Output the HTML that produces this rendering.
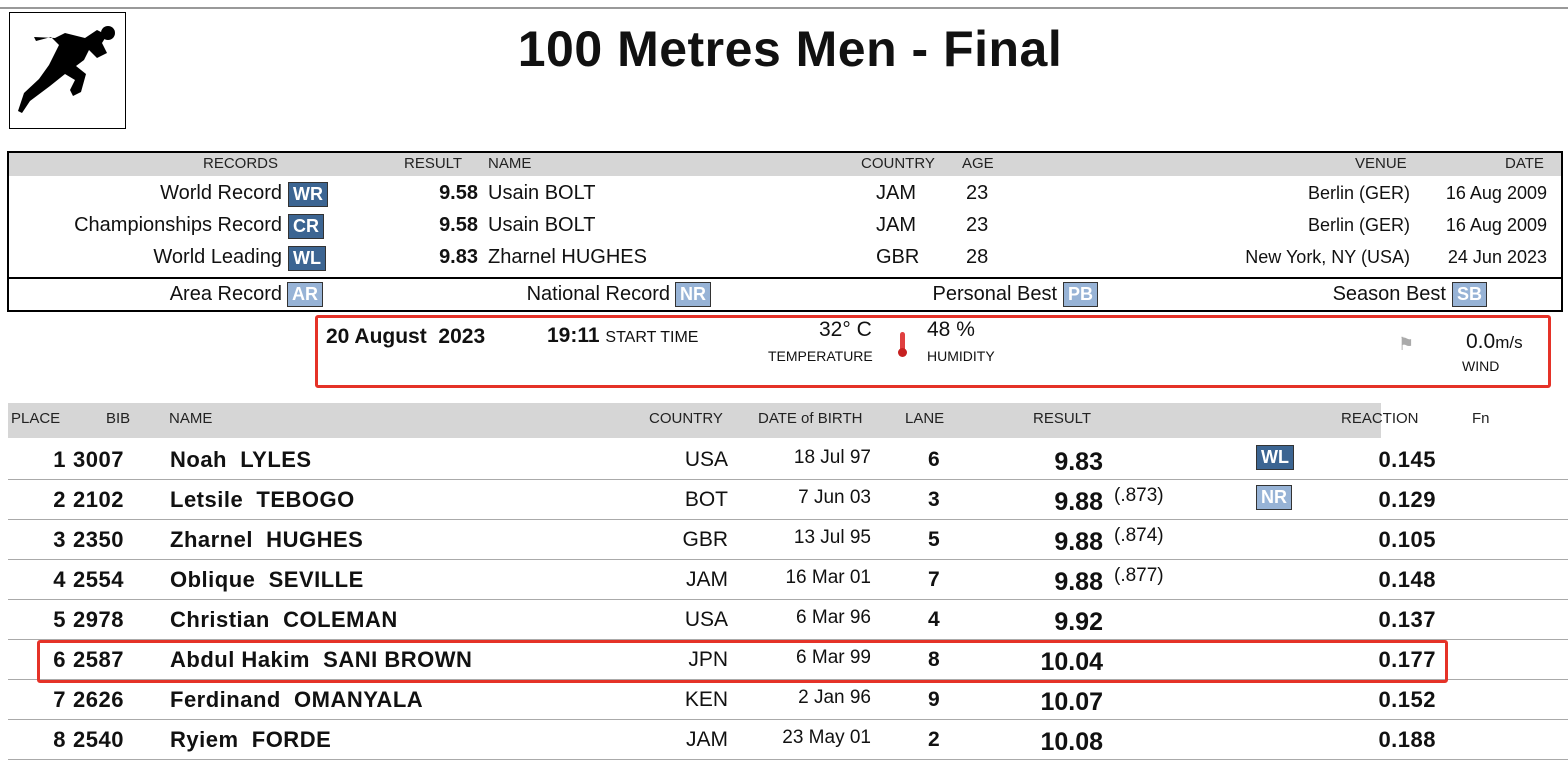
<!DOCTYPE html>
<html><head><style>
body{margin:0;width:1568px;height:768px;background:#fff;position:relative;overflow:hidden;font-family:"Liberation Sans",sans-serif;color:#111}
.a{position:absolute;white-space:nowrap}
.b{font-weight:bold}
.h{font-size:15px;color:#222}
.r{text-align:right}
.tag{position:absolute;color:#fff;font-size:18px;font-weight:bold;padding:0 4px;height:23px;line-height:23px;border:1px solid #333}
.dk{background:#3c6592}.lt{background:#97b3d6}
.sep{position:absolute;left:8px;width:1560px;height:1px;background:#aaa}
.rw{font-size:22px;font-weight:bold;letter-spacing:0.5px}
.rs{font-size:25px;font-weight:bold}
.sm{font-size:20px}
</style></head><body>
<div class="a" style="left:0;top:7px;width:1568px;height:2px;background:#999"></div>
<div class="a" style="left:9px;top:12px;width:115px;height:115px;border:1px solid #000">
<svg width="115" height="115" viewBox="0 0 115 115"><path d="M45 25 l10 -5 20 5 12 -8 10 5 -5 8 5 10 -10 5 -8 -8 -5 10 -8 6 10 8 -5 18 -8 4 -3 -6 5 -10 -10 -6 -15 12 -20 15 -8 12 -4 -2 6 -18 15 -14 10 -14 10 -20 -8 -8 -15 4 -2 -4z" fill="#000"/><circle cx="98" cy="20" r="7"/></svg></div>
<div class="a b" style="left:0;width:1580px;text-align:center;top:20px;font-size:50px;letter-spacing:0.5px">100 Metres Men - Final</div>

<div class="a" style="left:7px;top:151px;width:1552px;height:157px;border:2px solid #000"></div>
<div class="a" style="left:9px;top:153px;width:1552px;height:23px;background:#d6d6d6"></div>
<div class="a" style="left:9px;top:277px;width:1552px;height:2px;background:#000"></div>
<div class="a h" style="left:203px;top:155px">RECORDS</div>
<div class="a h" style="left:404px;top:155px">RESULT</div>
<div class="a h" style="left:488px;top:155px">NAME</div>
<div class="a h" style="left:861px;top:155px">COUNTRY</div>
<div class="a h" style="left:962px;top:155px">AGE</div>
<div class="a h" style="left:1355px;top:155px">VENUE</div>
<div class="a h" style="left:1505px;top:155px">DATE</div>

<div class="a sm r" style="right:1286px;top:182px">World Record</div><div class="tag dk" style="left:288px;top:182px">WR</div>
<div class="a sm r" style="right:1286px;top:214px">Championships Record</div><div class="tag dk" style="left:288px;top:214px">CR</div>
<div class="a sm r" style="right:1286px;top:246px">World Leading</div><div class="tag dk" style="left:288px;top:246px">WL</div>
<div class="a sm b r" style="right:1090px;top:182px">9.58</div><div class="a sm" style="left:488px;top:182px">Usain BOLT</div>
<div class="a sm b r" style="right:1090px;top:214px">9.58</div><div class="a sm" style="left:488px;top:214px">Usain BOLT</div>
<div class="a sm b r" style="right:1090px;top:246px">9.83</div><div class="a sm" style="left:488px;top:246px">Zharnel HUGHES</div>
<div class="a sm" style="left:876px;top:182px">JAM</div><div class="a sm" style="left:966px;top:182px">23</div>
<div class="a sm" style="left:876px;top:214px">JAM</div><div class="a sm" style="left:966px;top:214px">23</div>
<div class="a sm" style="left:876px;top:246px">GBR</div><div class="a sm" style="left:966px;top:246px">28</div>
<div class="a r" style="right:158px;top:183px;font-size:18px">Berlin (GER)</div><div class="a r" style="right:21px;top:183px;font-size:18px">16 Aug 2009</div>
<div class="a r" style="right:158px;top:215px;font-size:18px">Berlin (GER)</div><div class="a r" style="right:21px;top:215px;font-size:18px">16 Aug 2009</div>
<div class="a r" style="right:158px;top:247px;font-size:18px">New York, NY (USA)</div><div class="a r" style="right:21px;top:247px;font-size:18px">24 Jun 2023</div>
<div class="a sm r" style="right:1286px;top:283px">Area Record</div><div class="tag lt" style="left:287px;top:282px">AR</div>
<div class="a sm r" style="right:898px;top:283px">National Record</div><div class="tag lt" style="left:675px;top:282px">NR</div>
<div class="a sm r" style="right:511px;top:283px">Personal Best</div><div class="tag lt" style="left:1063px;top:282px">PB</div>
<div class="a sm r" style="right:122px;top:283px">Season Best</div><div class="tag lt" style="left:1452px;top:282px">SB</div>

<div class="a" style="left:315px;top:315px;width:1230px;height:67px;border:3px solid #e53228;border-radius:3px"></div>
<div class="a b" style="left:326px;top:325px;font-size:21px">20 August&nbsp; 2023</div>
<div class="a" style="left:547px;top:324px;font-size:21px"><b>19:11</b> <span style="font-size:16px">START TIME</span></div>
<div class="a" style="left:819px;top:318px;font-size:21px">32° C</div>
<div class="a" style="left:768px;top:348px;font-size:14px">TEMPERATURE</div>
<div class="a" style="left:900px;top:332px;width:5px;height:20px;background:#e04040;border-radius:3px"></div>
<div class="a" style="left:898px;top:348px;width:9px;height:9px;background:#c62020;border-radius:50%"></div>
<div class="a" style="left:927px;top:318px;font-size:21px">48 %</div>
<div class="a" style="left:927px;top:348px;font-size:14px">HUMIDITY</div>
<div class="a" style="left:1398px;top:334px;font-size:18px;color:#aaa">⚑</div>
<div class="a" style="left:1466px;top:330px;font-size:21px">0.0<span style="font-size:17px">m/s</span></div>
<div class="a" style="left:1462px;top:358px;font-size:14px">WIND</div>

<div class="a" style="left:8px;top:403px;width:1373px;height:35px;background:#d6d6d6"></div>
<div class="a h" style="left:11px;top:410px">PLACE</div>
<div class="a h" style="left:106px;top:410px">BIB</div>
<div class="a h" style="left:169px;top:410px">NAME</div>
<div class="a h" style="left:649px;top:410px">COUNTRY</div>
<div class="a h" style="left:758px;top:410px">DATE of BIRTH</div>
<div class="a h" style="left:905px;top:410px">LANE</div>
<div class="a h" style="left:1033px;top:410px">RESULT</div>
<div class="a h" style="left:1341px;top:410px">REACTION</div>
<div class="a h" style="left:1472px;top:410px">Fn</div>

<div class="sep" style="top:479px"></div><div class="sep" style="top:519px"></div><div class="sep" style="top:559px"></div><div class="sep" style="top:599px"></div><div class="sep" style="top:639px"></div><div class="sep" style="top:679px"></div><div class="sep" style="top:719px"></div><div class="sep" style="top:759px"></div>

<div id="rows"></div>
<div class="a" style="left:37px;top:640px;width:1405px;height:37px;border:3px solid #e53228;border-radius:3px"></div>

<div class="tag dk" style="left:1256px;top:445px">WL</div>
<div class="tag lt" style="left:1256px;top:485px">NR</div>

<script>
var d=[["1","3007","Noah&nbsp; LYLES","USA","18 Jul 97","6","9.83",""],
["2","2102","Letsile&nbsp; TEBOGO","BOT","7 Jun 03","3","9.88","(.873)"],
["3","2350","Zharnel&nbsp; HUGHES","GBR","13 Jul 95","5","9.88","(.874)"],
["4","2554","Oblique&nbsp; SEVILLE","JAM","16 Mar 01","7","9.88","(.877)"],
["5","2978","Christian&nbsp; COLEMAN","USA","6 Mar 96","4","9.92",""],
["6","2587","Abdul Hakim&nbsp; SANI BROWN","JPN","6 Mar 99","8","10.04",""],
["7","2626","Ferdinand&nbsp; OMANYALA","KEN","2 Jan 96","9","10.07",""],
["8","2540","Ryiem&nbsp; FORDE","JAM","23 May 01","2","10.08",""]];
var rc=["0.145","0.129","0.105","0.148","0.137","0.177","0.152","0.188"];
var h="";
d.forEach(function(r,i){var t=447+i*40;
h+='<div class="a rw r" style="right:1502px;top:'+t+'px">'+r[0]+'</div>';
h+='<div class="a rw" style="left:73px;top:'+t+'px">'+r[1]+'</div>';
h+='<div class="a rw" style="left:170px;top:'+t+'px">'+r[2]+'</div>';
h+='<div class="a r" style="right:840px;top:'+(t+1)+'px;font-size:21px">'+r[3]+'</div>';
h+='<div class="a r" style="right:697px;top:'+(t)+'px;font-size:19px">'+r[4]+'</div>';
h+='<div class="a" style="left:928px;top:'+(t+1)+'px;font-size:21px;font-weight:bold">'+r[5]+'</div>';
h+='<div class="a rs r" style="right:465px;top:'+(t+1)+'px">'+r[6]+'</div>';
if(r[7])h+='<div class="a" style="left:1114px;top:'+(t-2)+'px;font-size:19px">'+r[7]+'</div>';
h+='<div class="a rw r" style="right:132px;top:'+t+'px">'+rc[i]+'</div>';});
document.getElementById("rows").innerHTML=h;
</script>
</body></html>
